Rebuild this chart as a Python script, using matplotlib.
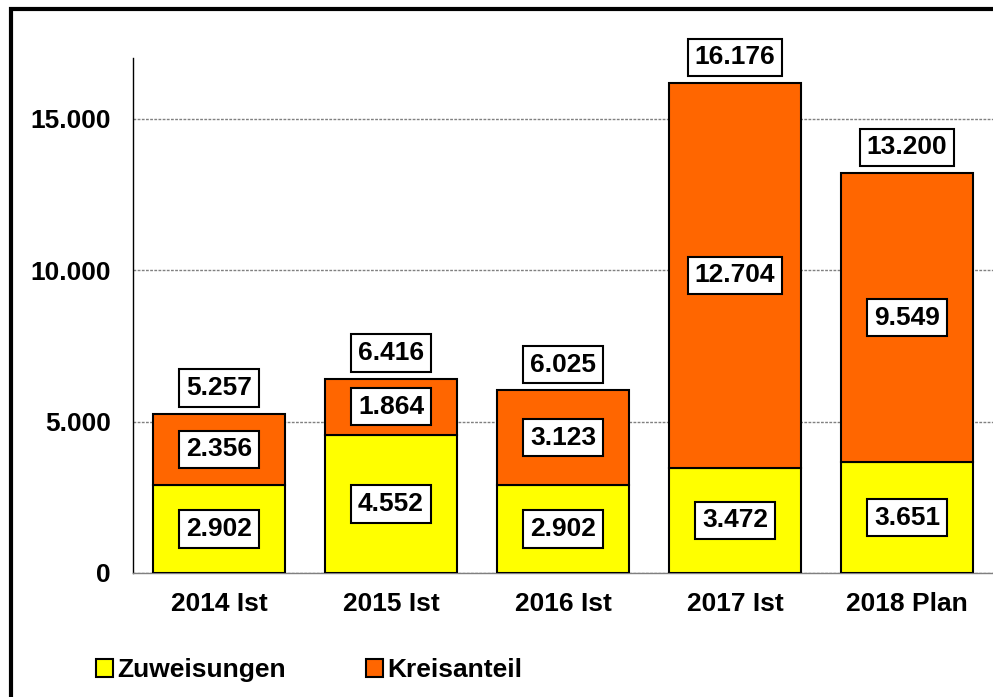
import matplotlib
matplotlib.use('Agg')
import matplotlib.pyplot as plt
import matplotlib.patches as mpatches

# Daten
jahre = ['2014 Ist', '2015 Ist', '2016 Ist', '2017 Ist', '2018 Plan']
zuweisungen = [2902, 4552, 2902, 3472, 3651]
kreisanteil = [2356, 1864, 3123, 12704, 9549]
gesamt = [5257, 6416, 6025, 16176, 13200]
y_ticks = [0, 5000, 10000, 15000]

def fmt(v):
    return f"{v:,}".replace(',', '.')

plt.rcParams['font.family'] = ['Liberation Sans', 'DejaVu Sans']
plt.rcParams['font.weight'] = 'bold'
fs = 19

fig = plt.figure(figsize=(9.93, 6.97), dpi=100)
ax = fig.add_axes([133/993, 1 - 573/697, 1 - 133/993, (573 - 58)/697])

x = list(range(len(jahre)))
breite = 0.77
ax.bar(x, zuweisungen, breite, color='#FFFF00', edgecolor='black', linewidth=1.5,
       label='Zuweisungen', zorder=3)
ax.bar(x, kreisanteil, breite, bottom=zuweisungen, color='#FF6600', edgecolor='black',
       linewidth=1.5, label='Kreisanteil', zorder=3)

box = dict(boxstyle='square,pad=0.25', facecolor='white', edgecolor='black', linewidth=1.5)
for i in x:
    ax.text(i, zuweisungen[i] / 2, fmt(zuweisungen[i]), ha='center', va='center',
            fontsize=fs, fontweight='bold', bbox=box, zorder=4)
    ax.text(i, zuweisungen[i] + kreisanteil[i] / 2, fmt(kreisanteil[i]), ha='center',
            va='center', fontsize=fs, fontweight='bold', bbox=box, zorder=4)
    ax.annotate(fmt(gesamt[i]), (i, gesamt[i]), xytext=(0, 18.5), textcoords='offset points',
                ha='center', va='center', fontsize=fs, fontweight='bold', bbox=box, zorder=4)

ax.set_xlim(-0.5, 4.5)
ax.set_ylim(0, 17000)
ax.set_yticks(y_ticks)
ax.set_yticklabels([fmt(v) for v in y_ticks], fontsize=fs, fontweight='bold')
ax.set_xticks(x)
ax.set_xticklabels(jahre, fontsize=fs, fontweight='bold')
ax.tick_params(axis='y', length=0, pad=16)
ax.tick_params(axis='x', length=0, pad=14)

ax.yaxis.grid(True, color='#808080', linestyle=(0, (2, 1)), linewidth=1, zorder=0)
ax.set_axisbelow(True)
for s in ['top', 'right']:
    ax.spines[s].set_visible(False)
ax.spines['left'].set_color('black')
ax.spines['left'].set_linewidth(1)
ax.spines['bottom'].set_color('#808080')
ax.spines['bottom'].set_linewidth(1)

fig.legend(loc='center left', bbox_to_anchor=(96/993, 1 - 670/697), ncol=2, frameon=False,
           fontsize=fs, handlelength=0.65, handleheight=0.65, handletextpad=0.15,
           columnspacing=3.05, borderpad=0, borderaxespad=0)

# Rahmen um die Grafik (rechts und unten abgeschnitten)
fig.patches.append(mpatches.Rectangle((11/993, -0.5), 2, 1.5 - 9/697, transform=fig.transFigure,
                                      fill=False, edgecolor='black', linewidth=3))

fig.savefig('out.png', dpi=100)
